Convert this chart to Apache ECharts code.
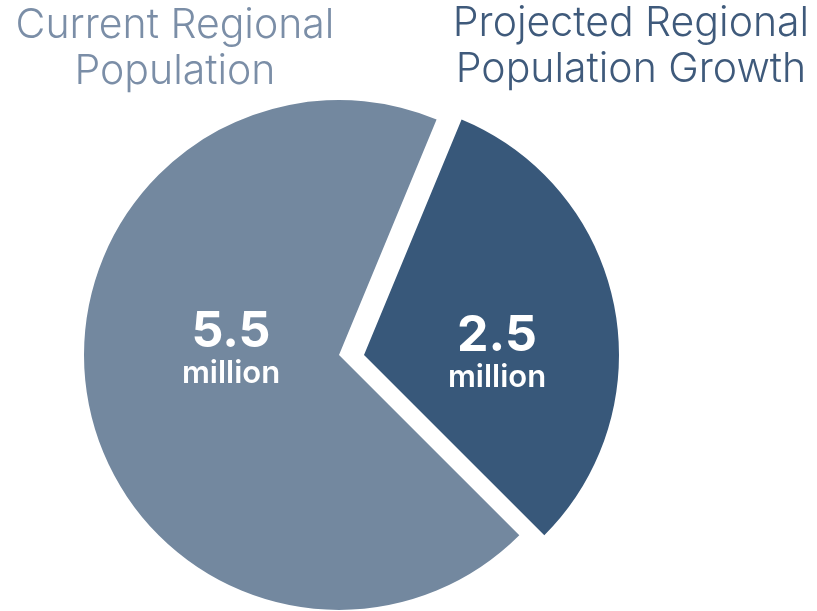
<!DOCTYPE html>
<html>
<head>
<meta charset="utf-8">
<script src="https://cdn.jsdelivr.net/npm/echarts@6/dist/echarts.min.js"></script>
<style>
  html, body { margin: 0; padding: 0; background: #ffffff; }
  #chart { width: 817px; height: 611px; }
</style>
</head>
<body>
<div id="chart"></div>
<script>
// Population figures, in millions
const categories = ['Projected Regional Population Growth', 'Current Regional Population'];
const values = [2.5, 5.5];
const unitLabel = 'million';
const sliceColors = ['#38587a', '#73889f'];
const titleColors = ['#3f5a7b', '#7b8ea7'];

const FONT = 'Inter, "Noto Sans", sans-serif';
const RADIUS = 255;
// Each slice gets its own pie so the growth wedge can be pulled out sideways
const centers = [[364, 355], [339, 355]];
const labelSpots = [[497, 353], [231, 349]];

function sliceSeries(idx) {
  return {
    type: 'pie',
    center: centers[idx],
    radius: [0, RADIUS],
    startAngle: 67.5,
    clockwise: true,
    silent: true,
    animation: false,
    data: categories.map((name, i) => ({
      name: name,
      value: values[i],
      itemStyle: { color: i === idx ? sliceColors[i] : 'rgba(0,0,0,0)' },
      label: { show: i === idx }
    })),
    label: {
      position: 'inside',
      formatter: p => '{v|' + p.value + '}\n{u|' + unitLabel + '}',
      rich: {
        v: { fontFamily: FONT, fontWeight: 'bold', fontSize: 50, color: '#ffffff', lineHeight: 50, align: 'center' },
        u: { fontFamily: FONT, fontWeight: 600, fontSize: 31, color: '#ffffff', lineHeight: 34, align: 'center' }
      }
    },
    labelLine: { show: false },
    labelLayout: () => ({
      x: labelSpots[idx][0],
      y: labelSpots[idx][1],
      align: 'center',
      verticalAlign: 'middle'
    })
  };
}

const chart = echarts.init(document.getElementById('chart'));
chart.setOption({
  backgroundColor: '#ffffff',
  series: [sliceSeries(1), sliceSeries(0)],
  graphic: [
    {
      type: 'text', x: 175, y: 3,
      style: {
        text: 'Current Regional\nPopulation',
        fill: titleColors[1], fontFamily: FONT, fontWeight: 300, fontSize: 41,
        lineHeight: 46, align: 'center', verticalAlign: 'top'
      }
    },
    {
      type: 'text', x: 631, y: 1,
      style: {
        text: 'Projected Regional\nPopulation Growth',
        fill: titleColors[0], fontFamily: FONT, fontWeight: 300, fontSize: 41,
        lineHeight: 46, align: 'center', verticalAlign: 'top'
      }
    }
  ]
});
</script>
</body>
</html>
